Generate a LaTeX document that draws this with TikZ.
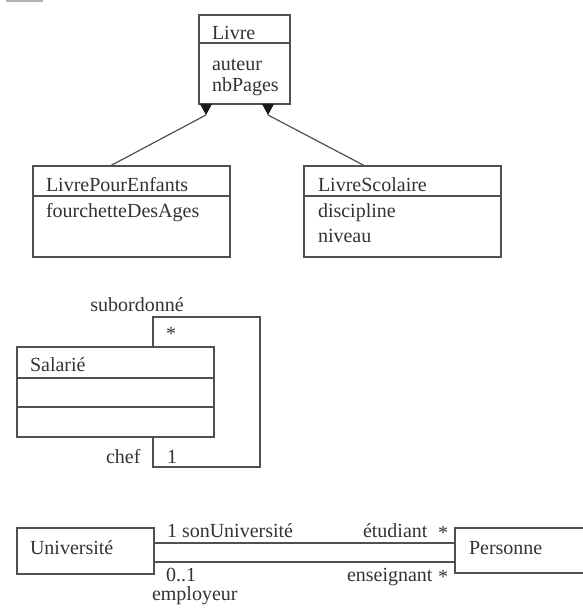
\documentclass[tikz,border=0pt]{standalone}
\usepackage{fontspec}
\setmainfont{Liberation Serif}
\usetikzlibrary{calc}
\definecolor{ln}{HTML}{505050}
\definecolor{tx}{HTML}{333333}
\newcommand{\fs}{\fontsize{20}{24}\selectfont}
\tikzset{
  cls/.style={draw=ln, line width=1.2pt, anchor=north west, inner sep=0pt, outer sep=0pt},
  clsopen/.style={anchor=north west, inner sep=0pt, outer sep=0pt},
  sep/.style={draw=ln, line width=1.2pt},
  conn/.style={draw=ln, line width=1.2pt},
  txt/.style={anchor=base west, inner sep=0pt, outer sep=0pt, text=tx, font=\fs},
  txtc/.style={anchor=base, inner sep=0pt, outer sep=0pt, text=tx, font=\fs},
}
\begin{document}
\begin{tikzpicture}[x=1pt, y=-1pt]
\useasboundingbox (0,0) rectangle (582,612);
\fill[white] (0,0) rectangle (582,612);

% small mark at top-left
\draw[gray!60, line width=2pt] (6,1.5) -- (43,1.5);

% ---------- Livre hierarchy ----------
\node[cls, minimum width=91pt, minimum height=89pt] (livre) at (199,15) {};
\draw[sep] ([yshift=-28pt]livre.north west) -- ([yshift=-28pt]livre.north east);
\node[txt] (tlivre) at (212,40) {Livre};
\node[txt] (tauteur) at (212,71) {auteur};
\node[txt] (tnbp) at (212,92) {nbPages};

\node[cls, minimum width=197pt, minimum height=91pt] (lpe) at (33,166) {};
\draw[sep] ([yshift=-30pt]lpe.north west) -- ([yshift=-30pt]lpe.north east);
\node[txt] (tlpe) at (46,192) {LivrePourEnfants};
\node[txt] (tfour) at (46,218) {fourchetteDesAges};

\node[cls, minimum width=197pt, minimum height=91pt] (ls) at (304,166) {};
\draw[sep] ([yshift=-30pt]ls.north west) -- ([yshift=-30pt]ls.north east);
\node[txt] (tls) at (318,192) {LivreScolaire};
\node[txt] (tdisc) at (318,218) {discipline};
\node[txt] (tniv) at (318,242) {niveau};

% inheritance connectors with filled heads
\coordinate (apexL) at ([xshift=7pt,yshift=-11pt]livre.south west);
\coordinate (apexR) at ([xshift=-22pt,yshift=-11pt]livre.south east);
\draw[conn] ([xshift=77pt]lpe.north west) -- (apexL);
\draw[conn] ([xshift=61pt]ls.north west) -- (apexR);
\fill[black!90] ([xshift=1pt]livre.south west) -- ([xshift=13pt]livre.south west) -- (apexL) -- cycle;
\fill[black!90] ([xshift=-28pt]livre.south east) -- ([xshift=-16pt]livre.south east) -- (apexR) -- cycle;

% ---------- Salarie ----------
\node[cls, minimum width=197pt, minimum height=90pt] (sal) at (17,347) {};
\draw[sep] ([yshift=-31pt]sal.north west) -- ([yshift=-31pt]sal.north east);
\draw[sep] ([yshift=-60pt]sal.north west) -- ([yshift=-60pt]sal.north east);
\node[txt] (tsal) at (30,371) {Salarié};

\draw[conn] ([xshift=136pt]sal.north west) -- ++(0pt,30pt) -- ++(107pt,0pt)
   -- ++(0pt,-150pt) -| ([xshift=136pt]sal.south west);
\node[txtc] (tsub) at (137,311) {subordonné};
\node[txtc] (tstar1) at (171,340) {*};
\node[txt] (tchef) at (106,463) {chef};
\node[txt] (tun) at (167,463) {1};

% ---------- Universite / Personne ----------
\node[cls, minimum width=137pt, minimum height=46pt] (univ) at (17,528) {};
\node[txt] (tuniv) at (30,554) {Université};

\node[clsopen, minimum width=140pt, minimum height=45pt] (pers) at (455,528) {};
\draw[sep] (pers.north east) -- (pers.north west) -- (pers.south west) -- (pers.south east);
\node[txt] (tpers) at (469,554) {Personne};

\draw[conn] ([yshift=-15pt]univ.north east) -- ([yshift=-15pt]pers.north west);
\draw[conn] ([yshift=-34pt]univ.north east) -- ([yshift=-34pt]pers.north west);

\node[txt] (tson) at (167,537) {1 sonUniversité};
\node[txt] (tetu) at (363,537) {étudiant};
\node[txtc] (tst2) at (443,539) {*};
\node[txt] (t01) at (166,581) {0..1};
\node[txt] (temp) at (152,600) {employeur};
\node[txt] (tens) at (347,581) {enseignant};
\node[txtc] (tst3) at (443,583) {*};
\end{tikzpicture}
\end{document}
